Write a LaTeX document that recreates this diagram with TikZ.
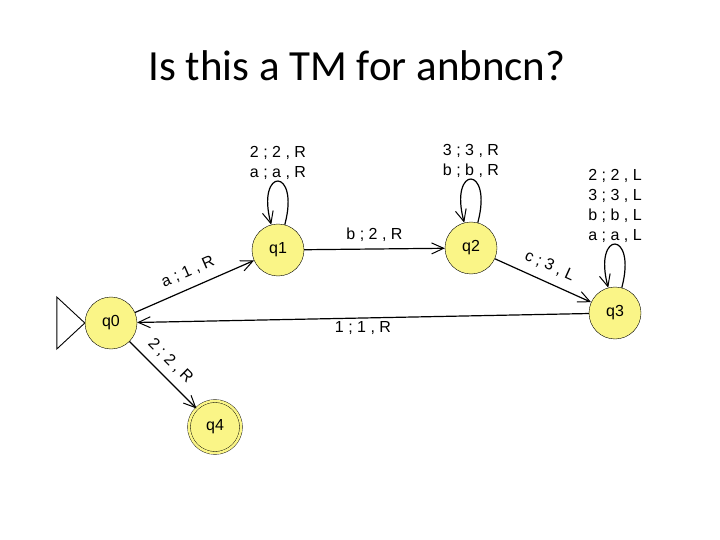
\documentclass[tikz,border=0pt]{standalone}
\usepackage{fontspec}
\setmainfont{Carlito}
\newfontfamily\jflapfont{Liberation Sans}
\usetikzlibrary{arrows.meta,positioning}
\definecolor{stateyellow}{RGB}{250,245,135}

\begin{document}
\begin{tikzpicture}[x=1pt,y=-1pt]
\tikzset{STATE/.style={draw,circle,fill=stateyellow,minimum size=52pt,inner sep=0pt,font=\jflapfont\fontsize{16}{18}\selectfont}}
\tikzset{FINAL STATE/.style={STATE,double=stateyellow,double distance=2.5pt}}
\tikzset{TRANSITION/.style={draw,line width=1.2pt,-{Straight Barb[length=12pt,width=11pt,line width=1pt]}}}
\tikzset{LOOP/.style={TRANSITION,loop,out=75,in=105,min distance=60pt,max distance=60pt}}
\tikzset{RULE/.style={font=\jflapfont\fontsize{16}{20}\selectfont,align=center,inner sep=1pt}}

\useasboundingbox (0,0) rectangle (720,540);
\node[font=\fontsize{43}{50}\selectfont] (title) at (357,66) {Is this a TM for anbncn?};

% states
\node[STATE] (q0) at (111,323) {q0};
\node[STATE] (q1) at (278,250) {q1};
\node[STATE] (q2) at (471,248) {q2};
\node[STATE] (q3) at (615,313) {q3};
\node[FINAL STATE] (q4) at (215,427) {q4};

% start marker
\draw[line width=0.9pt] (q0.west) -- ++(-28,-26) -- ++(0,52) -- cycle;

% transitions
\path[TRANSITION] (q0) -- node[RULE,sloped,above=8pt] {a ; 1 , R} (q1);
\path[TRANSITION] (q1) -- node[RULE,above=6pt] {b ; 2 , R} (q2);
\path[TRANSITION] (q2) -- node[RULE,sloped,above=8pt] {c ; 3 , L} (q3);
\path[TRANSITION] (q3) -- node[RULE,below=2pt] {1 ; 1 , R} (q0);
\path[TRANSITION] (q0) -- node[RULE,sloped,above=7pt,pos=0.45] {2 ; 2 , R} (q4);

\path (q1) edge[LOOP] node[RULE,above] {2 ; 2 , R\\a ; a , R} (q1);
\path (q2) edge[LOOP] node[RULE,above] {3 ; 3 , R\\b ; b , R} (q2);
\path (q3) edge[LOOP] node[RULE,above] {2 ; 2 , L\\3 ; 3 , L\\b ; b , L\\a ; a , L} (q3);

\end{tikzpicture}
\end{document}
